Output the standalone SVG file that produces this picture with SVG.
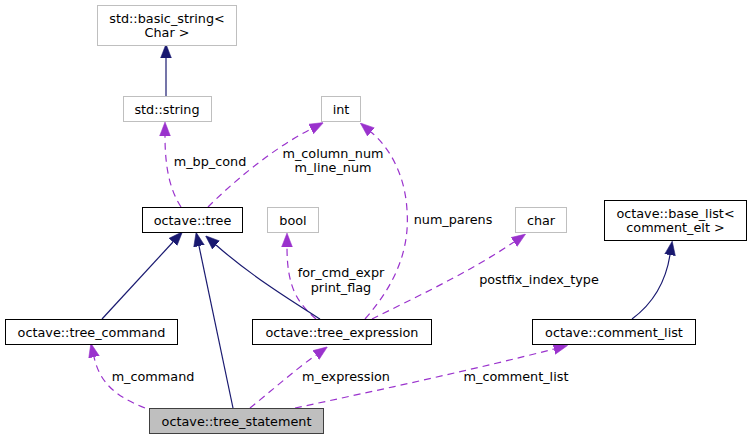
<svg xmlns="http://www.w3.org/2000/svg" width="752" height="440" viewBox="0 0 752 440">
<style>
  .t { font-family: "DejaVu Sans", "Liberation Sans", sans-serif; font-size: 12.8px; fill: #000; text-anchor: middle; }
  .box { fill: #fff; stroke: #000; stroke-width: 1; }
  .ext { fill: #fff; stroke: #bfbfbf; stroke-width: 1; }
  .focus { fill: #bfbfbf; stroke: #404040; stroke-width: 1; }
  .inh { fill: none; stroke: #191970; stroke-width: 1.2; }
  .use { fill: none; stroke: #9a32cd; stroke-width: 1.2; stroke-dasharray: 7,5; }
</style>
<defs>
  <marker id="an" markerUnits="userSpaceOnUse" markerWidth="14" markerHeight="12" refX="0" refY="5" orient="auto" viewBox="0 0 13 10">
    <path d="M0,0 L13,5 L0,10 Z" fill="#191970" stroke="#191970" stroke-width="0.5"/>
  </marker>
  <marker id="ap" markerUnits="userSpaceOnUse" markerWidth="14" markerHeight="12" refX="0" refY="5" orient="auto" viewBox="0 0 13 10">
    <path d="M0,0 L13,5 L0,10 Z" fill="#9a32cd" stroke="#9a32cd" stroke-width="0.5"/>
  </marker>
</defs>
<rect width="752" height="440" fill="#fff"/>

<g id="edges">
  <path class="inh" d="M166,96 L166,58" marker-end="url(#an)"/>
  <path class="use" d="M181,207 C170,190 165,168 165,136" marker-end="url(#ap)"/>
  <path class="use" d="M208,207 C230,185 270,150 311,129" marker-end="url(#ap)"/>
  <path class="use" d="M365,319 C395,285 410,250 407,210 C405,175 390,148 371,132" marker-end="url(#ap)"/>
  <path class="use" d="M316,319 C296,302 287,285 287,247" marker-end="url(#ap)"/>
  <path class="use" d="M372,319 C410,300 470,272 514,242" marker-end="url(#ap)"/>
  <path class="inh" d="M632,319 C655,302 666,280 670,255" marker-end="url(#an)"/>
  <path class="inh" d="M102,319 L173,242" marker-end="url(#an)"/>
  <path class="inh" d="M233,408 L199,246" marker-end="url(#an)"/>
  <path class="inh" d="M320,319 C290,300 250,275 216,245" marker-end="url(#an)"/>
  <path class="use" d="M145,408 C115,396 100,383 94,357" marker-end="url(#ap)"/>
  <path class="use" d="M250,408 C270,392 295,370 316,355" marker-end="url(#ap)"/>
  <path class="use" d="M295,408 C380,390 480,368 554,349" marker-end="url(#ap)"/>
  <text class="t" x="210" y="165.5">m_bp_cond</text>
  <text class="t" x="333" y="157.5">m_column_num</text>
  <text class="t" x="333" y="171.5">m_line_num</text>
  <text class="t" x="453" y="223.5">num_parens</text>
  <text class="t" x="341" y="276.5">for_cmd_expr</text>
  <text class="t" x="341" y="291.5">print_flag</text>
  <text class="t" x="539" y="283.5">postfix_index_type</text>
  <text class="t" x="153" y="380.5">m_command</text>
  <text class="t" x="346" y="380.5">m_expression</text>
  <text class="t" x="516" y="380.5">m_comment_list</text>
</g>

<g id="basic_string">
  <rect class="ext" x="97.5" y="5.5" width="139" height="40"/>
  <text class="t" x="167" y="22.5">std::basic_string&lt;</text>
  <text class="t" x="167" y="36.5">Char &gt;</text>
</g>
<g id="std_string">
  <rect class="ext" x="123.5" y="96.5" width="88" height="25"/>
  <text class="t" x="167" y="113.5">std::string</text>
</g>
<g id="int">
  <rect class="ext" x="321.5" y="96.5" width="39" height="25"/>
  <text class="t" x="341" y="113.5">int</text>
</g>
<g id="tree">
  <rect class="box" x="142.5" y="207.5" width="100" height="25"/>
  <text class="t" x="192.5" y="224.5">octave::tree</text>
</g>
<g id="bool">
  <rect class="ext" x="267.5" y="207.5" width="51" height="25"/>
  <text class="t" x="293" y="224.5">bool</text>
</g>
<g id="char">
  <rect class="ext" x="515.5" y="207.5" width="51" height="25"/>
  <text class="t" x="541" y="224.5">char</text>
</g>
<g id="base_list">
  <rect class="box" x="604.5" y="200.5" width="142" height="40"/>
  <text class="t" x="675.5" y="217.5">octave::base_list&lt;</text>
  <text class="t" x="675.5" y="231.5">comment_elt &gt;</text>
</g>
<g id="tree_command">
  <rect class="box" x="5.5" y="319.5" width="172" height="25"/>
  <text class="t" x="91.5" y="336.5">octave::tree_command</text>
</g>
<g id="tree_expression">
  <rect class="box" x="252.5" y="319.5" width="179" height="25"/>
  <text class="t" x="342" y="336.5">octave::tree_expression</text>
</g>
<g id="comment_list">
  <rect class="box" x="532.5" y="319.5" width="163" height="25"/>
  <text class="t" x="614" y="336.5">octave::comment_list</text>
</g>
<g id="tree_statement">
  <rect class="focus" x="149.5" y="408.5" width="174" height="25"/>
  <text class="t" x="236.5" y="425.5">octave::tree_statement</text>
</g>
</svg>
